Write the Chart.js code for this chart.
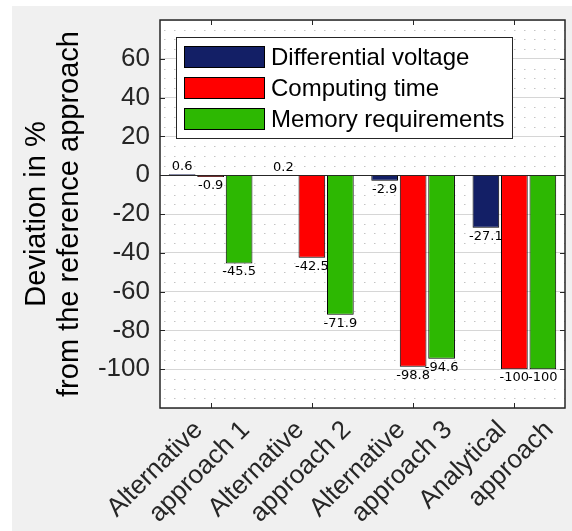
<!DOCTYPE html>
<html>
<head>
<meta charset="utf-8">
<script src="https://cdn.jsdelivr.net/npm/chart.js@4.4.1/dist/chart.umd.min.js"></script>
<style>
  html, body { margin: 0; padding: 0; background: #fff; }
  #wrap { width: 572px; height: 531px; }
</style>
</head>
<body>
<div id="wrap"><canvas id="chart" width="572" height="531"></canvas></div>
<script>
// data
var categories = [['Alternative', 'approach 1'], ['Alternative', 'approach 2'], ['Alternative', 'approach 3'], ['Analytical', 'approach']]
var seriesNames = ['Differential voltage', 'Computing time', 'Memory requirements']
var differentialVoltage = [0.6, 0.2, -2.9, -27.1]
var computingTime = [-0.9, -42.5, -98.8, -100]
var memoryRequirements = [-45.5, -71.9, -94.6, -100]
var yMin = -120
var yMax = 80
var yStep = 20
var yMinorStep = 5

var colors = ['#131f66', '#ff0000', '#2db802']
var axisColor = '#262626'
var font = 'Liberation Sans, Arial, sans-serif'

var figurePlugin = {
    id: 'figure',
    beforeDraw: function (chart) {
        var ctx = chart.ctx
        var a = chart.chartArea
        ctx.save()
        ctx.fillStyle = '#ffffff'
        ctx.fillRect(0, 0, chart.width, chart.height)
        ctx.fillStyle = '#f0f0f0'
        ctx.fillRect(12, 6, chart.width - 12, chart.height - 6)
        ctx.fillStyle = '#ffffff'
        ctx.fillRect(a.left, a.top, a.right - a.left, a.bottom - a.top)
        ctx.restore()
    },
    beforeDatasetsDraw: function (chart) {
        var ctx = chart.ctx
        var a = chart.chartArea
        var y = chart.scales.y
        ctx.save()
        // dotted minor grid
        ctx.strokeStyle = '#c4c4c4'
        ctx.lineWidth = 1
        ctx.setLineDash([1.5, 8.5])
        for (var v = yMin + yMinorStep; v < yMax; v += yMinorStep) {
            if (v % yStep === 0) continue
            var py = Math.round(y.getPixelForValue(v)) + 0.5
            ctx.beginPath()
            ctx.moveTo(a.left + 4, py)
            ctx.lineTo(a.right, py)
            ctx.stroke()
        }
        // bar baseline
        ctx.setLineDash([])
        var y0 = Math.round(y.getPixelForValue(0)) + 0.5
        ctx.strokeStyle = axisColor
        ctx.beginPath()
        ctx.moveTo(a.left, y0)
        ctx.lineTo(a.right, y0)
        ctx.stroke()
        ctx.restore()
    },
    afterDatasetsDraw: function (chart) {
        var ctx = chart.ctx
        ctx.save()
        // value labels
        ctx.fillStyle = '#000'
        ctx.font = '13px DejaVu Sans, sans-serif'
        ctx.textAlign = 'center'
        chart.data.datasets.forEach(function (ds, di) {
            var meta = chart.getDatasetMeta(di)
            meta.data.forEach(function (bar, i) {
                var v = ds.data[i]
                if (v >= 0) {
                    ctx.textBaseline = 'bottom'
                    ctx.fillText(String(v), bar.x, bar.y - 1)
                } else {
                    ctx.textBaseline = 'top'
                    ctx.fillText(String(v), bar.x, bar.y + 2)
                }
            })
        })
        ctx.restore()
    },
    afterDraw: function (chart) {
        var ctx = chart.ctx
        var a = chart.chartArea
        var x = chart.scales.x
        var y = chart.scales.y
        ctx.save()

        // axes box with inward ticks
        ctx.strokeStyle = axisColor
        ctx.lineWidth = 1.5
        ctx.strokeRect(a.left, a.top, a.right - a.left, a.bottom - a.top)
        ctx.lineWidth = 1
        ctx.beginPath()
        for (var v = yMin + yStep; v < yMax; v += yStep) {
            var py = Math.round(y.getPixelForValue(v)) + 0.5
            ctx.moveTo(a.left, py); ctx.lineTo(a.left + 5, py)
            ctx.moveTo(a.right, py); ctx.lineTo(a.right - 5, py)
        }
        for (var i = 0; i < categories.length; i++) {
            var px = Math.round(x.getPixelForValue(i)) + 0.5
            ctx.moveTo(px, a.bottom); ctx.lineTo(px, a.bottom - 5)
            ctx.moveTo(px, a.top); ctx.lineTo(px, a.top + 5)
        }
        ctx.stroke()

        // rotated two-line category labels
        ctx.fillStyle = axisColor
        ctx.font = '26px ' + font
        ctx.textAlign = 'right'
        ctx.textBaseline = 'alphabetic'
        for (var i = 0; i < categories.length; i++) {
            var cx = x.getPixelForValue(i)
            categories[i].forEach(function (line, j) {
                ctx.save()
                ctx.translate(cx - 7 + j * 47, a.bottom + 23)
                ctx.rotate(-Math.PI / 4)
                ctx.fillText(line, 0, 0)
                ctx.restore()
            })
        }

        // legend box
        var lx = 176.5, ly = 37.5, lw = 336, lh = 101
        ctx.fillStyle = '#ffffff'
        ctx.fillRect(lx, ly, lw, lh)
        ctx.strokeStyle = axisColor
        ctx.lineWidth = 1
        ctx.strokeRect(lx, ly, lw, lh)
        ctx.font = '24px ' + font
        ctx.textAlign = 'left'
        ctx.textBaseline = 'middle'
        chart.data.datasets.forEach(function (ds, di) {
            var top = 46 + di * 31
            ctx.fillStyle = ds.backgroundColor
            ctx.fillRect(184, top, 81, 22)
            ctx.strokeStyle = '#000'
            ctx.strokeRect(184.5, top + 0.5, 80, 21)
            ctx.fillStyle = '#000'
            ctx.fillText(ds.label, 271, top + 12)
        })
        ctx.restore()
    }
}

var seriesData = [differentialVoltage, computingTime, memoryRequirements]

new Chart(document.getElementById('chart'), {
    type: 'bar',
    data: {
        labels: categories,
        datasets: seriesNames.map(function (name, i) {
            return {
                label: name,
                data: seriesData[i],
                backgroundColor: colors[i],
                borderColor: '#000',
                borderWidth: 1,
                categoryPercentage: 0.844,
                barPercentage: 0.937
            }
        })
    },
    options: {
        responsive: false,
        animation: false,
        layout: { padding: { left: 0, right: 7, top: 20, bottom: 0 } },
        plugins: {
            legend: { display: false },
            tooltip: { enabled: false }
        },
        scales: {
            x: {
                grid: { display: false },
                border: { display: false },
                ticks: { display: false },
                afterFit: function (s) {
                    s.height = 123
                    s.paddingLeft = 0
                    s.paddingRight = 0
                }
            },
            y: {
                min: yMin,
                max: yMax,
                grid: { color: '#d6d6d6', drawTicks: false },
                border: { display: false },
                ticks: {
                    stepSize: yStep,
                    padding: 10,
                    color: axisColor,
                    font: { family: font, size: 26 },
                    callback: function (v) {
                        if (v === yMin || v === yMax) return ''
                        return v
                    }
                },
                title: {
                    display: true,
                    text: ['Deviation in %', 'from the reference approach'],
                    color: '#000',
                    font: { family: font, size: 29, lineHeight: 1.15 },
                    padding: { top: 20, bottom: 0 }
                },
                afterFit: function (s) {
                    s.width = 160
                    s.paddingTop = 0
                    s.paddingBottom = 0
                }
            }
        }
    },
    plugins: [figurePlugin]
})
</script>
</body>
</html>
